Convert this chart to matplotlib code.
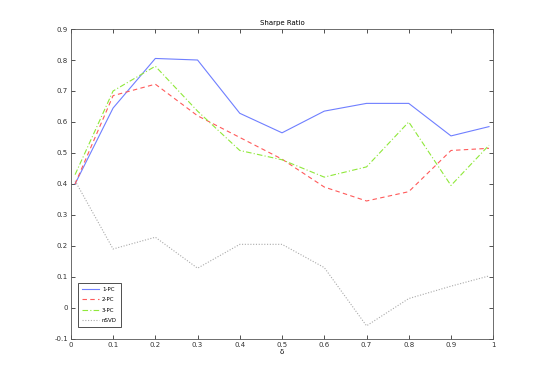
import matplotlib
matplotlib.use("Agg")
import matplotlib.pyplot as plt

# data
delta = [0.01, 0.1, 0.2, 0.3, 0.4, 0.5, 0.6, 0.7, 0.8, 0.9, 0.99]
pc1 = [0.40, 0.645, 0.805, 0.80, 0.628, 0.565, 0.635, 0.66, 0.66, 0.555, 0.585]
pc2 = [0.40, 0.685, 0.722, 0.62, 0.55, 0.48, 0.39, 0.345, 0.375, 0.508, 0.515]
pc3 = [0.43, 0.70, 0.78, 0.635, 0.508, 0.478, 0.422, 0.455, 0.60, 0.395, 0.525]
nsvd = [0.41, 0.19, 0.228, 0.128, 0.205, 0.205, 0.13, -0.058, 0.03, 0.07, 0.103]

xticks = [0, 0.1, 0.2, 0.3, 0.4, 0.5, 0.6, 0.7, 0.8, 0.9, 1]
yticks = [-0.1, 0, 0.1, 0.2, 0.3, 0.4, 0.5, 0.6, 0.7, 0.8, 0.9]

fig = plt.figure(figsize=(5.45, 3.82), dpi=100)
ax = fig.add_axes([0.13, 0.113, 0.775, 0.811])

ax.plot(delta, pc1, color="#6f7fff", lw=0.8, ls="-", label="1-PC")
ax.plot(delta, pc2, color="#ff5a5a", lw=0.8, ls=(0, (4, 3)), label="2-PC")
ax.plot(delta, pc3, color="#8fe83a", lw=0.8, ls=(0, (5, 2, 1, 2)), label="3-PC")
ax.plot(delta, nsvd, color="#aaaaaa", lw=0.8, ls=(0, (1, 1.5)), label="nSVD")

ax.set_xlim(0, 1)
ax.set_ylim(-0.1, 0.9)
ax.set_xticks(xticks)
ax.set_xticklabels(["0", "0.1", "0.2", "0.3", "0.4", "0.5", "0.6", "0.7", "0.8", "0.9", "1"])
ax.set_yticks(yticks)
ax.set_yticklabels(["-0.1", "0", "0.1", "0.2", "0.3", "0.4", "0.5", "0.6", "0.7", "0.8", "0.9"])
ax.tick_params(direction="in", length=3, width=0.6, labelsize=5, colors="#333333",
               top=True, right=True, pad=2)
for s in ax.spines.values():
    s.set_linewidth(0.6)
    s.set_color("#555555")

ax.set_title("Sharpe Ratio", fontsize=5, pad=3)
ax.set_xlabel("δ", fontsize=5, labelpad=1)

leg = ax.legend(loc="lower left", fontsize=4, frameon=True, fancybox=False,
                borderpad=0.7, handlelength=3, handletextpad=0.6, labelspacing=1.0,
                borderaxespad=0, bbox_to_anchor=(0.017, 0.038))
leg.get_frame().set_edgecolor("black")
leg.get_frame().set_linewidth(0.6)

fig.savefig("out.png", dpi=100)
